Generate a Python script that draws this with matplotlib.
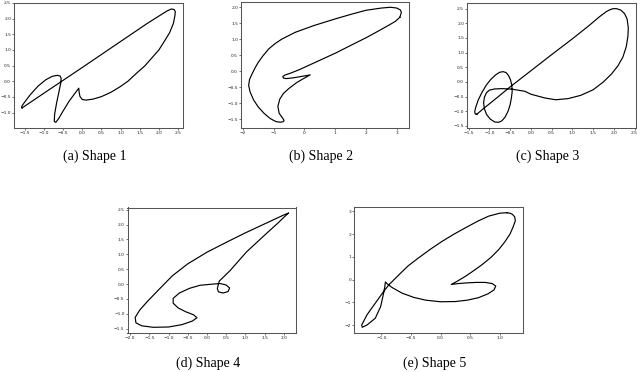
import matplotlib
matplotlib.use("Agg")
import matplotlib.pyplot as plt

# ---------------- data ----------------
shape1_x = [-1.57, -1.0, 0.0, 1.0, 1.7, 2.05, 2.22, 2.33, 2.40, 2.43, 2.42, 2.38, 2.28, 2.13, 2.0,
            1.82, 1.64, 1.42, 1.19, 0.98, 0.75, 0.5, 0.28, 0.1, 0.0, -0.06, -0.08, -0.09,
            -0.2, -0.35, -0.5, -0.62, -0.69, -0.73, -0.72, -0.67, -0.61, -0.56, -0.55, -0.58,
            -0.65, -0.78, -0.95, -1.15, -1.35, -1.50, -1.58, -1.57]
shape1_y = [-0.85, -0.38, 0.44, 1.27, 1.85, 2.12, 2.25, 2.31, 2.29, 2.22, 2.10, 1.85, 1.55, 1.25, 1.0,
            0.75, 0.5, 0.26, 0.0, -0.18, -0.35, -0.49, -0.57, -0.60, -0.58, -0.48, -0.35, -0.22,
            -0.40, -0.65, -0.95, -1.20, -1.31, -1.28, -1.05, -0.70, -0.35, -0.05, 0.10, 0.17,
            0.19, 0.16, 0.05, -0.15, -0.42, -0.66, -0.80, -0.85]

shape2_x = [3.1, 2.95, 2.77, 2.4, 2.02, 1.5, 1.05, 0.6, 0.19, -0.15, -0.46, -0.62, -0.70, -0.68,
            -0.58, -0.35, -0.05, 0.19, 0.0, -0.25, -0.51, -0.68, -0.80, -0.86, -0.82, -0.70,
            -0.66, -0.68, -0.78, -0.92, -1.1, -1.3, -1.5, -1.65, -1.76, -1.81, -1.78, -1.70,
            -1.60, -1.50, -1.35, -1.16, -0.95, -0.73, -0.30, 0.30, 1.0, 1.5, 2.0, 2.5, 2.8, 3.0,
            3.12, 3.15, 3.1]
shape2_y = [1.68, 1.55, 1.45, 1.25, 1.05, 0.80, 0.58, 0.38, 0.20, 0.05, -0.07, -0.12, -0.17, -0.22,
            -0.235, -0.21, -0.16, -0.12, -0.22, -0.36, -0.55, -0.70, -0.88, -1.10, -1.32, -1.48,
            -1.54, -1.58, -1.60, -1.58, -1.49, -1.33, -1.12, -0.90, -0.66, -0.45, -0.26, -0.09,
            0.10, 0.27, 0.47, 0.69, 0.86, 1.0, 1.21, 1.42, 1.63, 1.77, 1.90, 1.97, 1.995, 1.97,
            1.91, 1.83, 1.68]

shape3_x = [-1.30, -1.15, -0.8, -0.5, 0.0, 0.5, 1.0, 1.4, 1.65, 1.82, 1.90, 1.98, 2.07, 2.17, 2.26,
            2.32, 2.35, 2.34, 2.30, 2.22, 2.10, 1.95, 1.75, 1.5, 1.2, 0.9, 0.6, 0.34, 0.0, -0.145,
            -0.47, -0.70, -0.87, -1.0, -1.07, -1.12, -1.14, -1.12, -1.07, -0.98, -0.87, -0.78,
            -0.70, -0.62, -0.55, -0.50, -0.47, -0.45, -0.46, -0.49, -0.54, -0.60, -0.67, -0.75,
            -0.85, -0.97, -1.08, -1.18, -1.27, -1.33, -1.355, -1.34, -1.30]
shape3_y = [-1.10, -0.92, -0.52, -0.17, 0.38, 0.93, 1.47, 1.92, 2.22, 2.40, 2.46, 2.50, 2.50, 2.45, 2.33,
            2.15, 1.85, 1.55, 1.20, 0.85, 0.55, 0.28, 0.0, -0.27, -0.46, -0.57, -0.61, -0.55, -0.42,
            -0.32, -0.245, -0.23, -0.24, -0.28, -0.37, -0.52, -0.71, -0.92, -1.11, -1.27, -1.37,
            -1.38, -1.33, -1.20, -1.00, -0.78, -0.55, -0.32, -0.12, 0.07, 0.22, 0.32, 0.35, 0.33,
            0.24, 0.08, -0.12, -0.36, -0.62, -0.87, -1.02, -1.10, -1.10]

shape4_x = [2.12, 2.0, 1.55, 1.0, 0.5, 0.0, -0.5, -0.9, -1.25, -1.55, -1.75, -1.87, -1.85, -1.70,
            -1.40, -1.0, -0.65, -0.38, -0.26, -0.35, -0.55, -0.75, -0.88, -0.88, -0.72, -0.45,
            -0.18, 0.15, 0.34, 0.50, 0.59, 0.55, 0.42, 0.30, 0.27, 0.32, 0.6, 1.03, 1.55, 1.85,
            2.05, 2.12]
shape4_y = [2.38, 2.32, 2.05, 1.72, 1.40, 1.07, 0.68, 0.28, -0.18, -0.58, -0.87, -1.12, -1.30, -1.40,
            -1.45, -1.44, -1.36, -1.24, -1.13, -1.03, -0.93, -0.80, -0.64, -0.48, -0.30, -0.14,
            -0.04, 0.0, 0.02, -0.03, -0.13, -0.25, -0.30, -0.26, -0.15, 0.10, 0.45, 1.08, 1.70,
            2.05, 2.30, 2.38]

shape5_x = [1.12, 1.0, 0.81, 0.62, 0.42, 0.22, 0.03, -0.17, -0.37, -0.55, -0.70, -0.87, -0.98, -1.1,
            -1.24, -1.33, -1.32, -1.24, -1.1, -1.01, -0.96, -0.94, -0.93, -0.90, -0.82, -0.65,
            -0.45, -0.25, 0.0, 0.25, 0.45, 0.64, 0.80, 0.90, 0.93, 0.87, 0.75, 0.60, 0.45, 0.30,
            0.18, 0.28, 0.42, 0.55, 0.70, 0.85, 0.98, 1.08, 1.17, 1.22, 1.26, 1.25, 1.21, 1.17, 1.12]
shape5_y = [2.94, 2.92, 2.79, 2.56, 2.28, 1.99, 1.69, 1.34, 0.96, 0.60, 0.22, -0.22, -0.59, -1.03,
            -1.54, -1.99, -2.09, -1.99, -1.69, -1.18, -0.59, -0.30, -0.10, -0.18, -0.34, -0.59,
            -0.78, -0.90, -0.97, -0.96, -0.90, -0.79, -0.62, -0.45, -0.28, -0.17, -0.12, -0.12,
            -0.14, -0.17, -0.21, -0.07, 0.15, 0.38, 0.66, 0.98, 1.32, 1.65, 2.0, 2.30, 2.58, 2.76,
            2.87, 2.92, 2.94]

captions = ["(a) Shape 1", "(b) Shape 2", "(c) Shape 3", "(d) Shape 4", "(e) Shape 5"]

xticks = [[-1.5, -1.0, -0.5, 0.0, 0.5, 1.0, 1.5, 2.0, 2.5],
          [-2, -1, 0, 1, 2, 3],
          [-1.5, -1.0, -0.5, 0.0, 0.5, 1.0, 1.5, 2.0, 2.5],
          [-2.0, -1.5, -1.0, -0.5, 0.0, 0.5, 1.0, 1.5, 2.0],
          [-1.0, -0.5, 0.0, 0.5, 1.0]]
yticks = [[-1.0, -0.5, 0.0, 0.5, 1.0, 1.5, 2.0, 2.5],
          [-1.5, -1.0, -0.5, 0.0, 0.5, 1.0, 1.5, 2.0],
          [-1.5, -1.0, -0.5, 0.0, 0.5, 1.0, 1.5, 2.0, 2.5],
          [-1.5, -1.0, -0.5, 0.0, 0.5, 1.0, 1.5, 2.0, 2.5],
          [-2, -1, 0, 1, 2, 3]]

shapes = [(shape1_x, shape1_y), (shape2_x, shape2_y), (shape3_x, shape3_y),
          (shape4_x, shape4_y), (shape5_x, shape5_y)]

# ---------------- layout ----------------
W, H = 640, 372
fig = plt.figure(figsize=(W / 100, H / 100), dpi=100)

# axes boxes in pixels: left, right, top, bottom
boxes = [(14, 183, 3, 128), (241, 409, 1.5, 128), (467, 636, 3, 128),
         (127.5, 296, 207.5, 333), (354, 523, 207, 333)]
cap_y = [156, 156, 156, 363.5, 363.5]


def fmt(v, integer):
    s = f"{int(v)}" if integer else f"{v:.1f}"
    return s.replace("-", "\u2212")


for i, ((xs, ys), (l, r, t, b)) in enumerate(zip(shapes, boxes)):
    ax = fig.add_axes([l / W, 1 - b / H, (r - l) / W, (b - t) / H])
    ax.plot(xs, ys, color="black", lw=0.85, solid_joinstyle="round")
    ax.set_xticks(xticks[i])
    ax.set_yticks(yticks[i])
    ax.set_xticklabels([fmt(v, i == 1) for v in xticks[i]])
    ax.set_yticklabels([fmt(v, i == 4) for v in yticks[i]])
    ax.tick_params(labelsize=3.2, length=1.3, width=0.45, pad=0.8, colors="#222222")
    for sp in ax.spines.values():
        sp.set_linewidth(0.75)
        sp.set_color("#555555")
    cx = (l + r) / 2 - 4
    fig.text(cx / W, 1 - cap_y[i] / H, captions[i], ha="center", va="center",
             fontsize=10, family="Liberation Serif")

fig.savefig("out.png", dpi=100)
